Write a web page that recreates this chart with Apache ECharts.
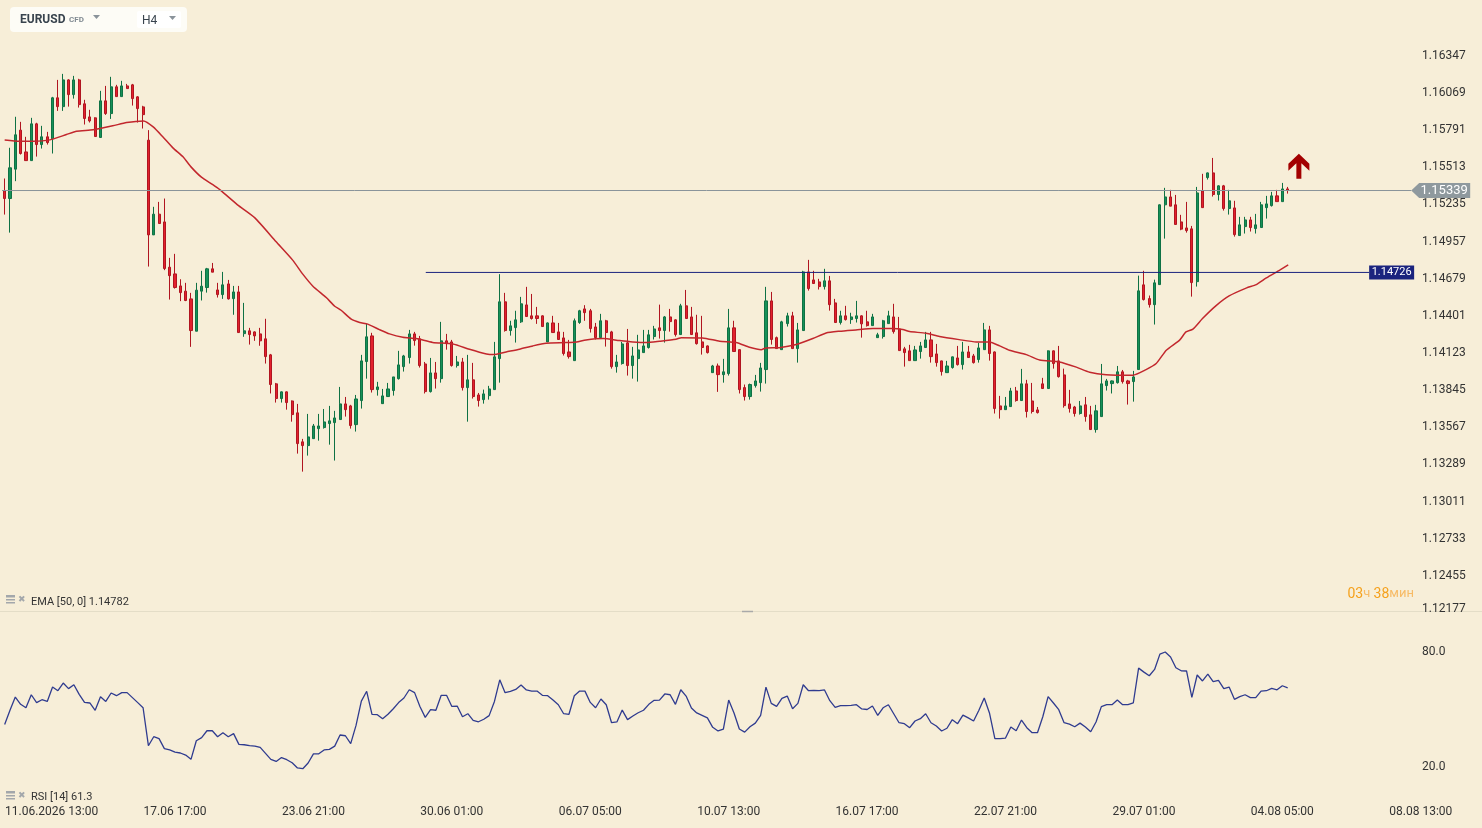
<!DOCTYPE html>
<html><head><meta charset="utf-8">
<script src="https://cdn.jsdelivr.net/npm/echarts@6/dist/echarts.min.js"></script>
<style>html,body{margin:0;padding:0;background:#f7eed8;}#c{width:1482px;height:828px;}</style>
</head><body><div id="c"></div>
<script>
// ---- DATA ----
const opens=[1.15336,1.15279,1.15499,1.15791,1.15628,1.15563,1.15838,1.15683,1.15741,1.15726,
1.16033,1.15967,1.16167,1.16057,1.16167,1.15988,1.15890,1.15883,1.15736,1.16010,
1.15915,1.16115,1.16042,1.16122,1.16130,1.16040,1.15965,1.15716,1.15007,1.15162,
1.15104,1.14765,1.14715,1.14625,1.14586,1.14528,1.14286,1.14586,1.14613,1.14753,
1.14595,1.14560,1.14640,1.14530,1.14580,1.14268,1.14289,1.14281,1.14266,1.14229,
1.14109,1.13892,1.13782,1.13832,1.13764,1.13675,1.13458,1.13430,1.13482,1.13557,
1.13565,1.13595,1.13602,1.13625,1.13742,1.13727,1.13587,1.13767,1.14059,1.14251,
1.13849,1.13744,1.13797,1.13842,1.13931,1.14021,1.14089,1.14266,1.14229,1.14041,
1.13834,1.13974,1.13931,1.14214,1.14206,1.14029,1.14056,1.13864,1.13922,1.13809,
1.13774,1.13804,1.13849,1.14081,1.14506,1.14291,1.14313,1.14356,1.14483,1.14401,
1.14401,1.14401,1.14206,1.14348,1.14281,1.14236,1.14131,1.14066,1.14351,1.14453,
1.14439,1.14318,1.14238,1.14364,1.14281,1.14021,1.14044,1.14199,1.14029,1.14081,
1.14126,1.14164,1.14246,1.14311,1.14291,1.14393,1.14371,1.14261,1.14476,1.14393,
1.14274,1.14206,1.14176,1.13976,1.14026,1.13961,1.13969,1.14311,1.14148,1.13864,
1.13797,1.13879,1.13901,1.13999,1.14513,1.14238,1.14148,1.14343,1.14401,1.14156,
1.14291,1.14730,1.14670,1.14655,1.14620,1.14663,1.14498,1.14351,1.14401,1.14373,
1.14381,1.14401,1.14356,1.14328,1.14238,1.14246,1.14343,1.14393,1.14303,1.14154,
1.14139,1.14066,1.14134,1.14164,1.14221,1.14116,1.14064,1.13976,1.14014,1.14086,
1.14036,1.14131,1.14101,1.14074,1.14148,1.14296,1.14131,1.13727,1.13699,1.13722,
1.13839,1.13767,1.13892,1.13764,1.13697,1.13892,1.13857,1.14139,1.14064,1.13959,
1.13742,1.13719,1.13670,1.13735,1.13660,1.13550,1.13647,1.13879,1.13894,1.13901,
1.13982,1.13914,1.13909,1.13999,1.14633,1.14530,1.14485,1.14635,1.15232,1.15291,
1.15232,1.15104,1.15059,1.15052,1.14657,1.15336,1.15436,1.15471,1.15309,1.15374,
1.15204,1.15209,1.15002,1.15069,1.15119,1.15054,1.15062,1.15211,1.15226,1.15299,
1.15256,1.15351];
const closes=[1.15279,1.15509,1.15756,1.15616,1.15563,1.15838,1.15683,1.15741,1.15698,1.16033,
1.15967,1.16167,1.16057,1.16167,1.15982,1.15878,1.15860,1.15743,1.16010,1.15915,
1.16115,1.16042,1.16122,1.16102,1.16027,1.15952,1.15907,1.15007,1.15162,1.15092,
1.14755,1.14702,1.14613,1.14575,1.14516,1.14291,1.14593,1.14623,1.14753,1.14728,
1.14560,1.14633,1.14528,1.14580,1.14276,1.14289,1.14261,1.14251,1.14214,1.14096,
1.13887,1.13782,1.13832,1.13752,1.13662,1.13445,1.13430,1.13495,1.13577,1.13577,
1.13607,1.13615,1.13637,1.13742,1.13699,1.13580,1.13779,1.14064,1.14244,1.13849,
1.13869,1.13802,1.13854,1.13944,1.14034,1.14101,1.14266,1.14216,1.14029,1.13834,
1.13974,1.13931,1.14214,1.14193,1.14029,1.14056,1.13864,1.13922,1.13797,1.13767,
1.13817,1.13854,1.14094,1.14506,1.14291,1.14326,1.14371,1.14491,1.14396,1.14381,
1.14381,1.14321,1.14348,1.14276,1.14224,1.14119,1.14096,1.14364,1.14439,1.14425,
1.14306,1.14238,1.14364,1.14276,1.14021,1.14056,1.14191,1.14029,1.14101,1.14146,
1.14176,1.14259,1.14303,1.14291,1.14393,1.14358,1.14261,1.14476,1.14381,1.14261,
1.14193,1.14164,1.14126,1.14026,1.13961,1.13982,1.14311,1.14134,1.13849,1.13797,
1.13887,1.13914,1.14011,1.14513,1.14224,1.14156,1.14356,1.14401,1.14156,1.14296,
1.14730,1.14605,1.14643,1.14620,1.14663,1.14485,1.14351,1.14401,1.14373,1.14393,
1.14401,1.14341,1.14328,1.14393,1.14259,1.14364,1.14401,1.14283,1.14141,1.14126,
1.14066,1.14146,1.14176,1.14221,1.14096,1.14051,1.13984,1.14026,1.14094,1.14036,
1.14131,1.14089,1.14051,1.14161,1.14296,1.14119,1.13707,1.13699,1.13727,1.13839,
1.13767,1.13892,1.13685,1.13685,1.13677,1.13857,1.14139,1.14044,1.13946,1.13729,
1.13707,1.13670,1.13727,1.13647,1.13550,1.13690,1.13892,1.13914,1.13914,1.13982,
1.13909,1.13894,1.13944,1.14588,1.14523,1.14485,1.14648,1.15232,1.15291,1.15222,
1.15085,1.15050,1.15039,1.14650,1.15321,1.15211,1.15471,1.15309,1.15374,1.15204,
1.15262,1.15009,1.15082,1.15119,1.15062,1.15082,1.15232,1.15239,1.15299,1.15256,
1.15351,1.15339];
const lows=[1.15159,1.15024,1.15409,1.15608,1.15563,1.15563,1.15593,1.15653,1.15683,1.15616,
1.15935,1.15935,1.15967,1.16027,1.15960,1.15833,1.15848,1.15743,1.15736,1.15905,
1.15875,1.16042,1.16042,1.16102,1.15975,1.15848,1.15803,1.14770,1.15007,1.15092,
1.14743,1.14523,1.14605,1.14511,1.14511,1.14169,1.14286,1.14516,1.14575,1.14728,
1.14538,1.14528,1.14523,1.14409,1.14276,1.14244,1.14186,1.14214,1.14177,1.14044,
1.13820,1.13752,1.13752,1.13699,1.13609,1.13370,1.13235,1.13355,1.13482,1.13467,
1.13557,1.13437,1.13318,1.13625,1.13647,1.13557,1.13535,1.13707,1.13931,1.13827,
1.13804,1.13744,1.13797,1.13804,1.13924,1.13984,1.14044,1.14178,1.14014,1.13820,
1.13827,1.13857,1.13901,1.14148,1.14021,1.14014,1.13842,1.13609,1.13782,1.13722,
1.13744,1.13774,1.13849,1.13901,1.14283,1.14253,1.14201,1.14348,1.14394,1.14373,
1.14341,1.14321,1.14206,1.14276,1.14224,1.14104,1.14081,1.14066,1.14341,1.14364,
1.14276,1.14224,1.14238,1.14171,1.14006,1.13976,1.14036,1.13954,1.13931,1.13909,
1.14126,1.14156,1.14224,1.14231,1.14201,1.14283,1.14246,1.14261,1.14381,1.14261,
1.14186,1.14111,1.14119,1.13976,1.13832,1.13901,1.13954,1.14134,1.13820,1.13767,
1.13774,1.13864,1.13834,1.13894,1.14186,1.14156,1.14148,1.14321,1.14156,1.14051,
1.14291,1.14590,1.14643,1.14598,1.14598,1.14440,1.14351,1.14336,1.14366,1.14341,
1.14351,1.14238,1.14321,1.14328,1.14238,1.14231,1.14343,1.14268,1.14141,1.14021,
1.14066,1.14066,1.14081,1.14164,1.14051,1.14021,1.13954,1.13976,1.14006,1.14029,
1.13999,1.14089,1.14044,1.14051,1.14148,1.14066,1.13670,1.13632,1.13699,1.13722,
1.13759,1.13767,1.13640,1.13670,1.13670,1.13857,1.13857,1.14006,1.13939,1.13714,
1.13677,1.13647,1.13662,1.13609,1.13550,1.13527,1.13647,1.13842,1.13820,1.13894,
1.13894,1.13737,1.13759,1.13999,1.14516,1.14463,1.14336,1.14635,1.14979,1.15222,
1.15085,1.15042,1.15024,1.14545,1.14620,1.15211,1.15421,1.15294,1.15264,1.15189,
1.15159,1.14994,1.15002,1.15017,1.15032,1.15017,1.15062,1.15129,1.15219,1.15256,
1.15256,1.15316];
const highs=[1.15429,1.15659,1.15891,1.15853,1.15741,1.15883,1.15846,1.15823,1.15778,1.16040,
1.16167,1.16212,1.16172,1.16197,1.16175,1.16018,1.15943,1.15887,1.16085,1.16122,
1.16190,1.16130,1.16160,1.16137,1.16137,1.16045,1.15973,1.15791,1.15217,1.15254,
1.15279,1.14835,1.14865,1.14675,1.14648,1.14573,1.14648,1.14738,1.14760,1.14797,
1.14648,1.14730,1.14670,1.14625,1.14625,1.14498,1.14311,1.14285,1.14311,1.14379,
1.14116,1.13899,1.13835,1.13835,1.13768,1.13742,1.13480,1.13667,1.13592,1.13667,
1.13704,1.13727,1.13690,1.13869,1.13794,1.13735,1.13809,1.14109,1.14341,1.14274,
1.13907,1.13854,1.13899,1.13944,1.14139,1.14109,1.14296,1.14281,1.14251,1.14056,
1.14086,1.14056,1.14356,1.14266,1.14221,1.14101,1.14086,1.14109,1.14049,1.13824,
1.13849,1.13877,1.14206,1.14713,1.14573,1.14364,1.14439,1.14543,1.14618,1.14565,
1.14468,1.14405,1.14352,1.14401,1.14348,1.14281,1.14221,1.14381,1.14446,1.14481,
1.14453,1.14348,1.14416,1.14371,1.14289,1.14109,1.14206,1.14303,1.14169,1.14259,
1.14296,1.14296,1.14326,1.14485,1.14400,1.14453,1.14375,1.14491,1.14595,1.14468,
1.14409,1.14401,1.14180,1.14034,1.14044,1.14079,1.14453,1.14364,1.14150,1.13887,
1.13894,1.13959,1.14049,1.14618,1.14580,1.14246,1.14364,1.14424,1.14431,1.14348,
1.14738,1.14820,1.14738,1.14678,1.14753,1.14700,1.14528,1.14439,1.14476,1.14424,
1.14513,1.14405,1.14439,1.14416,1.14274,1.14371,1.14439,1.14491,1.14393,1.14169,
1.14184,1.14176,1.14206,1.14281,1.14281,1.14191,1.14066,1.14064,1.14096,1.14176,
1.14206,1.14176,1.14116,1.14199,1.14348,1.14326,1.14135,1.13802,1.13794,1.13862,
1.13869,1.14004,1.13922,1.13899,1.13719,1.13937,1.14142,1.14142,1.14176,1.14006,
1.13847,1.13727,1.13764,1.13794,1.13727,1.13735,1.14041,1.13929,1.13918,1.14026,
1.13996,1.13922,1.13989,1.14702,1.14738,1.14553,1.14672,1.15235,1.15359,1.15344,
1.15306,1.15157,1.15254,1.15074,1.15366,1.15464,1.15474,1.15583,1.15378,1.15381,
1.15344,1.15262,1.15142,1.15142,1.15142,1.15164,1.15254,1.15299,1.15329,1.15344,
1.15396,1.15366];
// EMA(50) line read at these candle positions
const emaIdx=[0,2.8,5.3,8.5,11.6,13.5,16.6,20.3,22.9,26.1,27.9,29.7,31.6,33.5,35,36.9,39.1,40.4,44,47,
51,54.1,56,57.9,60.4,62,63.2,65.1,66.7,68.2,70.4,72.3,74.8,77.3,80.4,84.2,87.3,90.5,91.8,94.2,
96.7,99.2,101.7,105.5,107.4,109.2,112.4,115.5,118,120.5,123,126.1,127.1,131.1,134.3,137.4,139.9,142.1,143,145.5,
148.7,151.8,154.3,156.8,159.9,163.1,166.8,168.7,170,173.1,175.6,179.3,182.5,185,186.9,188.7,191.9,194.4,198.1,201.3,
203.8,206.9,211.9,214.4,216.3,218.2,220.7,221.9,223.2,225,227.5,230,233.3,235.1,237,239.5,241.1];
const emaVal=[1.15718,1.15708,1.15708,1.15718,1.15758,1.15783,1.15793,1.15823,1.15848,1.15860,1.15815,1.15741,1.15658,1.15591,1.15516,1.15441,1.15383,1.15346,1.15224,1.15134,
1.14955,1.14818,1.14713,1.14623,1.14538,1.14473,1.14443,1.14376,1.14351,1.14339,1.14298,1.14266,1.14241,1.14231,1.14202,1.14191,1.14151,1.14116,1.14111,1.14131,
1.14151,1.14176,1.14196,1.14201,1.14206,1.14221,1.14231,1.14216,1.14206,1.14201,1.14211,1.14226,1.14238,1.14236,1.14211,1.14201,1.14166,1.14148,1.14161,1.14163,
1.14186,1.14231,1.14273,1.14286,1.14296,1.14306,1.14306,1.14298,1.14283,1.14271,1.14246,1.14223,1.14206,1.14206,1.14176,1.14144,1.14111,1.14071,1.14056,1.14017,
1.13979,1.13961,1.13957,1.13999,1.14044,1.14144,1.14219,1.14281,1.14302,1.14381,1.14476,1.14550,1.14610,1.14635,1.14685,1.14743,1.14782];
const rsiVals=[42.2,49.6,56.5,52.7,50.9,57.7,53.6,55.1,54.2,61.7,
59.8,63.8,60.9,62.9,57.9,53.7,53.4,49.6,56.7,54.2,
58.6,57.2,58.8,58.8,56.2,53.6,50.9,31.1,35.8,34.8,
29.6,28.9,27.8,27.3,26.2,24.0,33.7,35.3,38.9,38.9,
35.8,37.9,35.8,37.4,31.8,31.6,31.1,30.9,30.2,27.1,
24.0,22.9,24.9,23.8,22.2,19.5,19.1,22.1,26.8,26.9,
28.9,29.2,30.9,36.7,36.3,32.2,41.7,54.4,59.5,47.5,
47.3,45.2,47.5,50.4,53.6,56.0,60.3,58.8,51.6,45.9,
49.9,49.6,57.4,57.4,51.6,51.8,46.2,47.8,44.3,43.6,
44.9,46.8,54.2,65.5,58.8,59.5,60.5,62.8,60.2,59.6,
59.6,57.4,57.2,54.9,52.5,47.8,47.5,57.2,59.6,59.6,
53.7,50.9,55.5,52.5,43.1,43.5,49.7,44.7,46.6,48.3,
49.6,52.7,54.8,54.9,58.1,57.7,52.7,60.3,57.0,50.8,
48.2,46.9,45.6,40.7,38.8,39.8,54.9,48.2,39.8,38.2,
41.0,42.9,46.9,61.7,53.2,51.6,55.8,57.0,50.4,53.2,
62.9,59.8,60.0,59.8,60.2,54.6,51.1,52.0,52.0,52.2,
52.5,50.3,50.0,51.8,46.9,50.9,52.5,47.8,43.1,42.6,
40.5,44.0,45.2,47.8,43.1,41.4,38.8,40.2,44.7,42.6,
47.1,45.6,44.0,49.6,56.0,48.0,34.8,34.8,35.1,40.9,
38.9,44.5,40.5,37.9,37.9,46.2,56.7,53.4,49.9,43.1,
42.4,41.0,42.9,40.9,38.4,43.5,51.5,52.5,52.5,54.9,
52.5,52.5,53.4,71.6,69.5,67.6,70.9,78.9,80.0,77.4,
71.8,70.2,70.1,56.3,68.0,64.9,68.5,64.5,65.2,60.9,
61.7,55.3,56.7,57.7,56.2,56.2,59.6,59.8,61.0,60.3,
62.4,61.3];
const tickLabels=['11.06.2026 13:00','17.06 17:00','23.06 21:00','30.06 01:00','06.07 05:00','10.07 13:00','16.07 17:00','22.07 21:00','29.07 01:00','04.08 05:00','08.08 13:00'];
const TICK_START=6, TICK_STEP=26, SLOTS=278;
const currentPrice=1.15339, currentLineEnd=264.2;
const levelPrice=1.14726, levelFrom=79.1, levelTo=256.3;
const arrowPos=[243.1,1.15520];
const emaLast=1.14782, rsiLast=61.3;
const priceMin=1.12177, priceStep=0.00278, priceMax=1.16625;

// ---- CHART ----
const FONT='Roboto, "Noto Sans", sans-serif';
const categories=Array.from({length:SLOTS},(_,i)=>String(i));
const candles=opens.map((o,i)=>[o,closes[i],lows[i],highs[i]]);
const emaData=emaIdx.map((x,i)=>[x,emaVal[i]]);
const chart=echarts.init(document.getElementById('c'),null,{renderer:'canvas'});
const option={
  backgroundColor:'#f7eed8',
  animation:false,
  textStyle:{fontFamily:FONT},
  grid:[
    {left:2,right:0,top:18.7,bottom:215,containLabel:false,outerBoundsMode:'none'},
    {left:2,right:0,top:613.7,bottom:22.7,containLabel:false,outerBoundsMode:'none'}
  ],
  xAxis:[
    {type:'category',gridIndex:0,data:categories,show:false,boundaryGap:true},
    {type:'value',gridIndex:0,min:-0.5,max:SLOTS-0.5,show:false},
    {type:'category',gridIndex:1,data:categories,boundaryGap:true,
     axisLine:{show:false},axisTick:{show:false},splitLine:{show:false},
     axisLabel:{
       interval:(i)=>i>=TICK_START&&(i-TICK_START)%TICK_STEP===0,
       formatter:(v,i)=>{const k=Math.round((i-TICK_START)/TICK_STEP);const t=tickLabels[k]||'';return k===0?'{f|'+t+'}':t;},
       color:'#333',fontSize:12,fontFamily:FONT,margin:1,
       rich:{f:{padding:[0,0,0,30],fontSize:12,color:'#333',fontFamily:FONT}}
     }}
  ],
  yAxis:[
    {type:'value',gridIndex:0,position:'right',offset:-68,min:priceMin,max:priceMax,interval:priceStep,scale:true,
     splitLine:{show:false},axisLine:{show:false},axisTick:{show:false},
     axisLabel:{margin:8,color:'#333',fontSize:12,fontFamily:FONT,
       formatter:v=>v>1.1636?'':(Math.abs(v-priceMin)<1e-7?'{m|'+v.toFixed(5)+'}':v.toFixed(5)),
       rich:{m:{padding:[0,0,8,0],fontSize:12,color:'#333',fontFamily:FONT}}}},
    {type:'value',gridIndex:1,position:'right',offset:-68,min:0,max:100,interval:20,
     splitLine:{show:false},axisLine:{show:false},axisTick:{show:false},
     axisLabel:{margin:8,color:'#333',fontSize:12,fontFamily:FONT,formatter:v=>(v===20||v===80)?v.toFixed(1):''}}
  ],
  series:[
    {type:'candlestick',xAxisIndex:0,yAxisIndex:0,data:candles,barWidth:2.6,silent:true,
     itemStyle:{color:'#169158',color0:'#e3212d',borderColor:'#0f7144',borderColor0:'#b01520',borderWidth:1}},
    {type:'line',xAxisIndex:1,yAxisIndex:0,data:emaData,showSymbol:false,symbol:'none',smooth:0.2,silent:true,
     lineStyle:{color:'#c2272d',width:1.5}},
    {type:'line',xAxisIndex:1,yAxisIndex:0,data:[[-0.5,currentPrice],[currentLineEnd,currentPrice]],symbol:'none',silent:true,
     lineStyle:{color:'#8a949a',width:1},
     markPoint:{silent:true,symbol:'path://M0,7.5 L8,0 L59,0 L59,15 L8,15 Z',symbolSize:[59,15],symbolOffset:[29.5,0],
       itemStyle:{color:'#8f999e'},
       label:{show:true,position:'inside',offset:[3.5,0],color:'#ffffff',fontSize:13,fontFamily:FONT,formatter:()=>currentPrice.toFixed(5)},
       data:[{coord:[currentLineEnd,currentPrice]}]}},
    {type:'line',xAxisIndex:1,yAxisIndex:0,data:[[levelFrom,levelPrice],[levelTo,levelPrice]],symbol:'none',silent:true,
     lineStyle:{color:'#1a237e',width:1},
     markPoint:{silent:true,symbol:'path://M0,0 L45,0 L45,14 L0,14 Z',symbolSize:[45,14],symbolOffset:[22.5,0],
       itemStyle:{color:'#1a237e'},
       label:{show:true,position:'inside',color:'#ffffff',fontSize:11,fontFamily:FONT,formatter:()=>levelPrice.toFixed(5)},
       data:[{coord:[levelTo,levelPrice]}]}},
    {type:'scatter',xAxisIndex:1,yAxisIndex:0,data:[arrowPos],silent:true,
     symbol:'path://M10.5,0 L21,10 L21,17 L13,9.5 L13,25 L8,25 L8,9.5 L0,17 L0,10 Z',symbolSize:[21,25],
     itemStyle:{color:'#a30000',opacity:1}},
    {type:'line',xAxisIndex:2,yAxisIndex:1,data:rsiVals,symbol:'none',showSymbol:false,silent:true,
     lineStyle:{color:'#2f3b8f',width:1.3}}
  ],
  graphic:[
    {type:'rect',silent:true,shape:{x:10,y:7,width:177,height:25,r:4},style:{fill:'#fdfcf6'}},
    {type:'rect',silent:true,shape:{x:137,y:11,width:44,height:17,r:2},style:{fill:'#ffffff'}},
    {type:'text',silent:true,x:20,y:19.5,style:{text:'EURUSD',font:'bold 12px '+FONT,fill:'#39444e',verticalAlign:'middle'}},
    {type:'text',silent:true,x:69,y:19.5,style:{text:'CFD',font:'bold 8px '+FONT,fill:'#808a92',verticalAlign:'middle'}},
    {type:'polygon',silent:true,shape:{points:[[93,15],[100,15],[96.5,19]]},style:{fill:'#8a939a'}},
    {type:'text',silent:true,x:142,y:20.5,style:{text:'H4',font:'12px '+FONT,fill:'#39444e',verticalAlign:'middle'}},
    {type:'polygon',silent:true,shape:{points:[[169,16],[176,16],[172.5,20]]},style:{fill:'#8a939a'}},
    // EMA legend
    {type:'rect',silent:true,shape:{x:6,y:595,width:9,height:2.5},style:{fill:'#a3a7ab'}},
    {type:'rect',silent:true,shape:{x:6,y:599,width:9,height:1.5},style:{fill:'#a3a7ab'}},
    {type:'rect',silent:true,shape:{x:6,y:602,width:9,height:1.5},style:{fill:'#a3a7ab'}},
    {type:'text',silent:true,x:18,y:599.5,style:{text:'✖',font:'9px "DejaVu Sans"',fill:'#a3a7ab',verticalAlign:'middle'}},
    {type:'text',silent:true,x:31,y:602,style:{text:'EMA [50, 0] '+emaLast.toFixed(5),font:'11px '+FONT,fill:'#333',verticalAlign:'middle'}},
    // RSI legend
    {type:'rect',silent:true,shape:{x:6,y:791,width:9,height:2.5},style:{fill:'#a3a7ab'}},
    {type:'rect',silent:true,shape:{x:6,y:795,width:9,height:1.5},style:{fill:'#a3a7ab'}},
    {type:'rect',silent:true,shape:{x:6,y:798,width:9,height:1.5},style:{fill:'#a3a7ab'}},
    {type:'text',silent:true,x:18,y:795.5,style:{text:'✖',font:'9px "DejaVu Sans"',fill:'#a3a7ab',verticalAlign:'middle'}},
    {type:'text',silent:true,x:31,y:797.5,style:{text:'RSI [14] '+rsiLast.toFixed(1),font:'11px '+FONT,fill:'#333',verticalAlign:'middle'}},
    // separator + handle
    {type:'line',silent:true,shape:{x1:0,y1:611.5,x2:1482,y2:611.5},style:{stroke:'#e4ddc7',lineWidth:1}},
    {type:'line',silent:true,shape:{x1:742,y1:611.5,x2:753,y2:611.5},style:{stroke:'#a9a9a9',lineWidth:1.5}},
    // countdown
    {type:'text',silent:true,x:1414,y:594,style:{text:'{a|03}{b|ч} {a|38}{b|мин}',align:'right',verticalAlign:'middle',
      rich:{a:{fontSize:14,fontFamily:FONT,fill:'#f5a11c'},b:{fontSize:13,fontFamily:FONT,fill:'#f7bb66'}}}}
  ]
};
chart.setOption(option);
</script>
</body></html>
